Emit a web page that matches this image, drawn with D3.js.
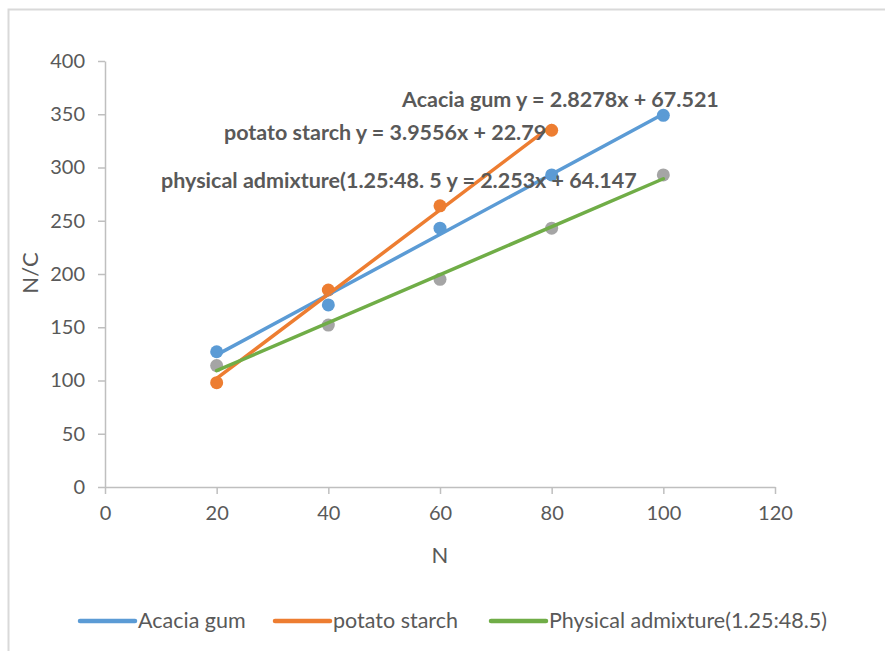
<!DOCTYPE html>
<html><head><meta charset="utf-8">
<script src="https://cdn.jsdelivr.net/npm/d3@7"></script>
<style>body{margin:0;background:#fff}svg{display:block}text{font-family:Lato,"Open Sans",sans-serif}</style>
</head><body><svg id="c" width="885" height="651"></svg>
<script>
const xValues = [20, 40, 60, 80, 100];
const acaciaGum = [127, 171, 243, 293, 349];
const potatoStarch = [98, 185, 264, 335];
const physicalAdmixture = [114, 152, 195, 243, 293];
const xTicks = [0, 20, 40, 60, 80, 100, 120];
const yTicks = [0, 50, 100, 150, 200, 250, 300, 350, 400];
const seriesNames = ["Acacia gum", "potato starch", "Physical admixture(1.25:48.5)"];
const trendSlopes = [2.8278, 3.9556, 2.253];
const trendIntercepts = [67.521, 22.79, 64.147];
const trendLabels = ["Acacia gum y = 2.8278x + 67.521", "potato starch y = 3.9556x + 22.79", "physical admixture(1.25:48. 5 y = 2.253x + 64.147"];

const lineColors = ["#5b9bd5", "#ed7d31", "#70ad47"];
const markerColors = ["#5b9bd5", "#ed7d31", "#a5a5a5"];
const txt = "#595959";
const svg = d3.select("#c");

svg.append("rect").attr("x", 8.5).attr("y", 9.5).attr("width", 900).attr("height", 700)
  .attr("fill", "none").attr("stroke", "#d9d9d9").attr("stroke-width", 2);

const x = d3.scaleLinear().domain([0, 120]).range([105, 775]);
const y = d3.scaleLinear().domain([0, 400]).range([487, 61]);

const gx = svg.append("g").attr("transform", "translate(0,487)")
  .call(d3.axisBottom(x).tickValues(xTicks).tickSize(7).tickSizeOuter(0).tickPadding(12));
const gy = svg.append("g").attr("transform", "translate(105,0)")
  .call(d3.axisLeft(y).tickValues(yTicks).tickSize(7).tickSizeOuter(0).tickPadding(13));
[gx, gy].forEach(g => {
  g.select(".domain").attr("stroke", "#bfbfbf").attr("stroke-width", 1.5);
  g.selectAll(".tick line").attr("stroke", "#bfbfbf").attr("stroke-width", 1.5);
  g.selectAll(".tick text").attr("fill", txt).attr("font-size", 20)
    .style("font-family", 'Lato,"Open Sans",sans-serif');
});

svg.append("text").attr("x", 440).attr("y", 563).attr("text-anchor", "middle")
  .attr("fill", txt).attr("font-size", 22).text("N");
svg.append("text").attr("transform", "translate(38,273) rotate(-90)").attr("text-anchor", "middle")
  .attr("fill", txt).attr("font-size", 22).text("N/C");

const data = [acaciaGum, potatoStarch, physicalAdmixture];
data.forEach((vals, i) => {
  svg.append("g").selectAll("circle").data(vals).join("circle")
    .attr("cx", (d, j) => x(xValues[j])).attr("cy", d => y(d)).attr("r", 6.5)
    .attr("fill", markerColors[i]);
});
data.forEach((vals, i) => {
  const xs = xValues.slice(0, vals.length);
  const x0 = d3.min(xs), x1 = d3.max(xs);
  svg.append("line")
    .attr("x1", x(x0)).attr("y1", y(trendSlopes[i] * x0 + trendIntercepts[i]))
    .attr("x2", x(x1)).attr("y2", y(trendSlopes[i] * x1 + trendIntercepts[i]))
    .attr("stroke", lineColors[i]).attr("stroke-width", 3.5).attr("stroke-linecap", "round");
});

const labelPos = [[402, 107], [224, 140], [161, 188]];
trendLabels.forEach((t, i) => {
  svg.append("text").attr("x", labelPos[i][0]).attr("y", labelPos[i][1])
    .attr("fill", txt).attr("font-size", 21.5).attr("font-weight", "bold").text(t);
});

const legX = [80, 275, 491];
seriesNames.forEach((n, i) => {
  svg.append("line").attr("x1", legX[i]).attr("x2", legX[i] + 55).attr("y1", 621).attr("y2", 621)
    .attr("stroke", lineColors[i]).attr("stroke-width", 4.5).attr("stroke-linecap", "round");
  svg.append("text").attr("x", legX[i] + 58).attr("y", 628).attr("fill", txt)
    .attr("font-size", 21.5).text(n);
});
</script></body></html>
